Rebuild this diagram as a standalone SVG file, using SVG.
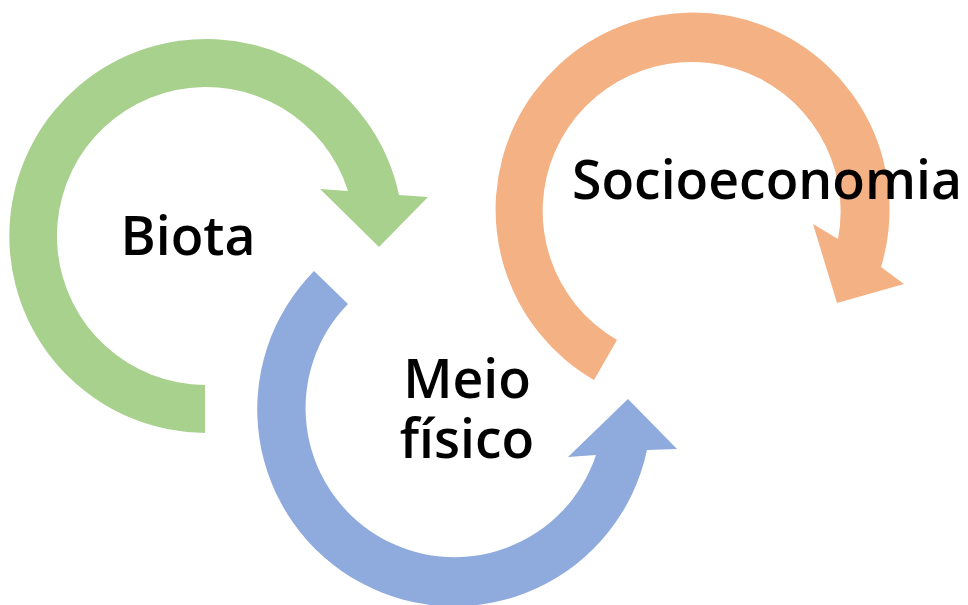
<svg xmlns="http://www.w3.org/2000/svg" width="968" height="605" viewBox="0 0 968 605">
<style>
.lbl{font-family:"Open Sans","Noto Sans","DejaVu Sans",sans-serif;font-weight:600;font-size:53.5px;fill:#000;text-anchor:middle}
</style>
<rect width="968" height="605" fill="#fff"/>
<g id="connectors">
<path id="arrow-biota" fill="#A9D18E" d="M 205,433 A 197 197 0 1 1 399,195 L 428,197 L 379,247 L 320,189 L 348,191 A 149 149 0 1 0 205,385 Z"/>
<path id="arrow-meio" fill="#8FAADC" d="M 314,271 A 197 197 0 1 0 647,450 L 677,449 L 628,399 L 568,457 L 596,455 A 149 149 0 1 1 348,304 Z"/>
<path id="arrow-socio" fill="#F4B183" d="M 594,380 A 197 197 0 1 1 881,267 L 904,284 L 837,303 L 813,224 L 838,239 A 149 149 0 1 0 617,340 Z"/>
</g>
<g id="biota"><text class="lbl" x="188" y="255">Biota</text></g>
<g id="meio-fisico"><text class="lbl" x="467" y="398">Meio</text><text class="lbl" x="467" y="458">físico</text></g>
<g id="socioeconomia"><text class="lbl" x="767" y="199">Socioeconomia</text></g>
</svg>
